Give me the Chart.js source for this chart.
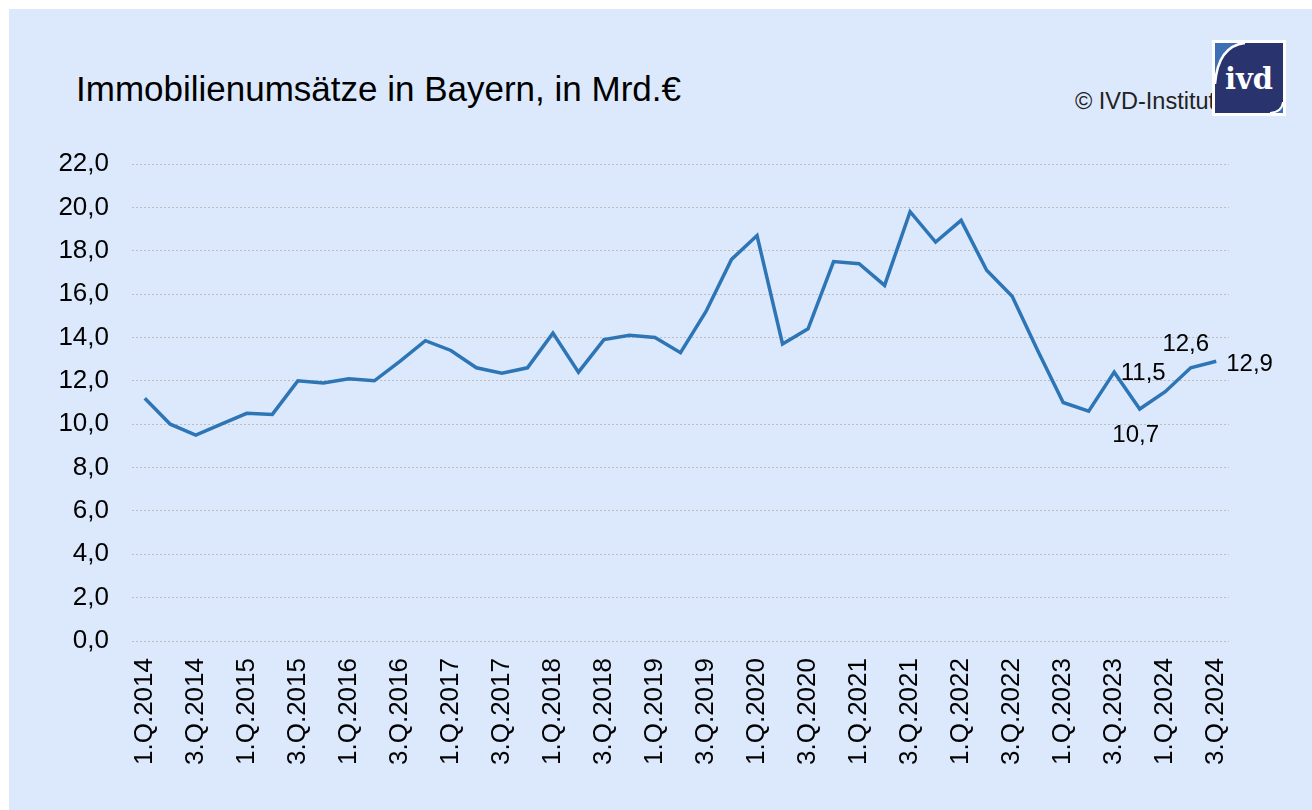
<!DOCTYPE html>
<html>
<head>
<meta charset="utf-8">
<script src="https://cdn.jsdelivr.net/npm/chart.js@4.4.1/dist/chart.umd.min.js"></script>
<style>
  html, body { margin: 0; padding: 0; background: #fff; }
  body { width: 1312px; height: 810px; position: relative; overflow: hidden; font-family: "Liberation Sans", Arial, sans-serif; }
  #panel { position: absolute; left: 9px; top: 9px; width: 1303px; height: 801px; background: #dce9fd; }
  #title { position: absolute; left: 76px; top: 71px; font-size: 35px; line-height: 35px; color: #000; white-space: nowrap; }
  #copy { position: absolute; left: 1075px; top: 90px; font-size: 23.5px; line-height: 23.5px; color: #222; white-space: nowrap; }
  #logo { position: absolute; left: 1212px; top: 40px; }
  #chart { position: absolute; left: 0; top: 0; }
</style>
</head>
<body>
<div id="panel"></div>
<div id="title">Immobilienumsätze in Bayern, in Mrd.€</div>
<div id="copy">© IVD-Institut</div>
<svg id="logo" width="74" height="76" viewBox="0 0 74 76">
  <rect x="0" y="0" width="74" height="76" fill="#fff"/>
  <rect x="3" y="3" width="68" height="70" fill="#29346f"/>
  <path d="M3,3 L33,3 Q6,6 3,44 Z" fill="#3d6fb2"/>
  <path d="M33,3 Q6,6 3,44" fill="none" stroke="#fff" stroke-width="2.5"/>
  <path d="M71,73 L58,73 Q70,72 71,62 Z" fill="#3d6fb2"/>
  <path d="M58,73 Q70,72 71,62" fill="none" stroke="#fff" stroke-width="2"/>
  <text x="37" y="49" text-anchor="middle" font-family="DejaVu Serif, serif" font-weight="bold" font-size="30" textLength="48" lengthAdjust="spacingAndGlyphs" fill="#fff">ivd</text>
</svg>
<canvas id="chart" width="1312" height="810"></canvas>
<script>
// quarters 1.Q.2014 .. 3.Q.2024
const years = [2014, 2015, 2016, 2017, 2018, 2019, 2020, 2021, 2022, 2023, 2024];
const quarters = [];
for (const y of years) {
  for (let q = 1; q <= 4; q++) {
    if (y === 2024 && q > 3) break;
    quarters.push(q + '.Q.' + y);
  }
}

// Umsatz in Mrd. Euro
const umsatz = [
  11.2, 10.0, 9.5, 10.0,
  10.5, 10.45, 12.0, 11.9,
  12.1, 12.0, 12.9, 13.85,
  13.4, 12.6, 12.35, 12.6,
  14.2, 12.4, 13.9, 14.1,
  14.0, 13.3, 15.2, 17.6,
  18.7, 13.7, 14.4, 17.5,
  17.4, 16.4, 19.8, 18.4,
  19.4, 17.1, 15.9, 13.4,
  11.0, 10.6, 12.4, 10.7,
  11.5, 12.6, 12.9
];

const yTicks = [0, 2, 4, 6, 8, 10, 12, 14, 16, 18, 20, 22];

// which points get a value label, and where it sits relative to the point
const labelled = [
  { i: 39, dx: -4, dy: 26, align: 'center' },
  { i: 40, dx: -22, dy: -18, align: 'center' },
  { i: 41, dx: -5, dy: -23, align: 'center' },
  { i: 42, dx: 10, dy: 3, align: 'left' }
];

const fmt = v => v.toFixed(1).replace('.', ',');
const FONT = '"Liberation Sans", Arial, sans-serif';

const valueLabels = {
  id: 'valueLabels',
  afterDatasetsDraw(chart) {
    const ctx = chart.ctx;
    const meta = chart.getDatasetMeta(0);
    ctx.save();
    ctx.font = '24px ' + FONT;
    ctx.fillStyle = '#000';
    ctx.textBaseline = 'middle';
    for (const l of labelled) {
      const pt = meta.data[l.i];
      ctx.textAlign = l.align;
      ctx.fillText(fmt(umsatz[l.i]), pt.x + l.dx, pt.y + l.dy);
    }
    ctx.restore();
  }
};

new Chart(document.getElementById('chart'), {
  type: 'line',
  data: {
    labels: quarters,
    datasets: [{
      data: umsatz,
      borderColor: '#2e75b6',
      borderWidth: 3.5,
      pointRadius: 0,
      tension: 0,
      fill: false
    }]
  },
  options: {
    responsive: false,
    animation: false,
    layout: { padding: { top: 164, right: 83, bottom: 0, left: 0 } },
    plugins: { legend: { display: false }, tooltip: { enabled: false } },
    scales: {
      x: {
        offset: true,
        grid: { display: false, drawTicks: false },
        border: { display: false },
        ticks: {
          autoSkip: false,
          minRotation: 90,
          maxRotation: 90,
          padding: 17,
          color: '#000',
          font: { family: FONT, size: 26 },
          callback: function (value, index) {
            return index % 2 === 0 ? this.getLabelForValue(value) : '';
          }
        },
        afterFit: scale => { scale.height = 169; }
      },
      y: {
        min: 0,
        max: 22,
        afterBuildTicks: scale => { scale.ticks = yTicks.map(v => ({ value: v })); },
        grid: { color: '#bdbdbd', lineWidth: 1, drawTicks: false },
        border: { display: false, dash: [2, 2] },
        ticks: {
          padding: 23,
          color: '#000',
          font: { family: FONT, size: 26 },
          callback: v => fmt(v)
        },
        afterFit: scale => { scale.width = 132; }
      }
    }
  },
  plugins: [valueLabels]
});
</script>
</body>
</html>
